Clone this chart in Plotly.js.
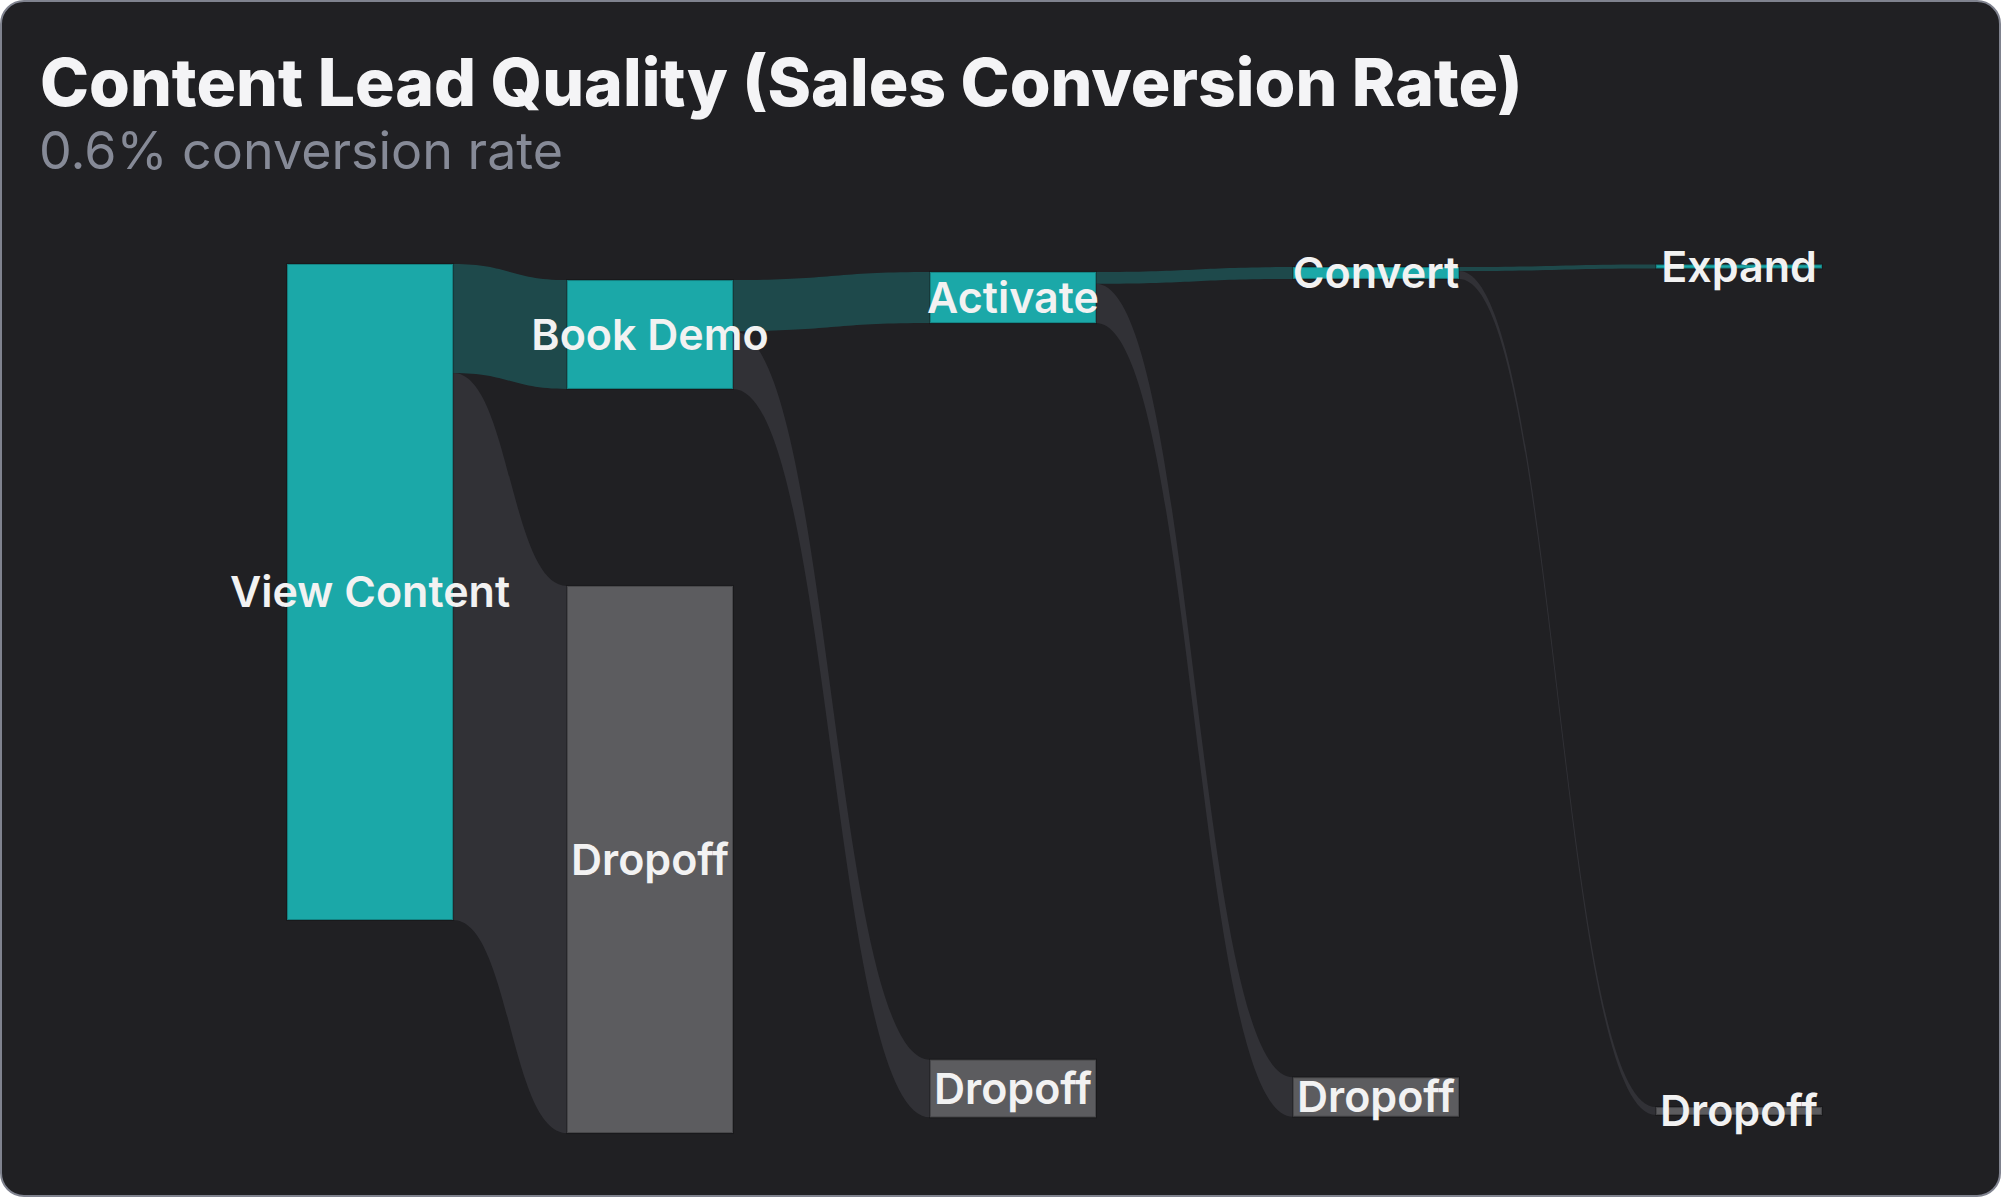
<!DOCTYPE html>
<html>
<head>
<meta charset="utf-8">
<script src="https://cdn.plot.ly/plotly-3.0.1.min.js"></script>
<style>
  html, body { margin: 0; padding: 0; background: #ffffff; }
  #card {
    position: absolute; left: 0; top: 0; width: 2001px; height: 1197px;
    box-sizing: border-box; border: 2px solid #7f828e; border-radius: 24px;
    background: #202023; overflow: hidden;
  }
  #chart { position: absolute; left: -2px; top: -2px; width: 2001px; height: 1197px; }
</style>
</head>
<body>
<div id="card"><div id="chart"></div></div>
<script>
// ---- data ----
const nodeNames  = ['View Content', 'Book Demo', 'Dropoff', 'Activate', 'Dropoff', 'Convert', 'Dropoff', 'Expand', 'Dropoff'];
const nodeKinds  = ['stage', 'stage', 'drop', 'stage', 'drop', 'stage', 'drop', 'stage', 'drop'];
const linkSource = [0, 0, 1, 1, 3, 3, 5, 5];
const linkTarget = [1, 2, 3, 4, 5, 6, 7, 8];
const linkValue  = [1660, 8340, 780, 880, 180, 600, 60, 120];
const titleText    = 'Content Lead Quality (Sales Conversion Rate)';
const subtitleText = '0.6% conversion rate';

// ---- layout (positions / styles) ----
const W = 2001, H = 1197;
const M = { l: 287, r: 262, t: 250, b: 271 };
const plotW = W - M.l - M.r, plotH = H - M.t - M.b;
const nodeX = [0.0572, 0.25, 0.25, 0.5, 0.5, 0.75, 0.75, 1.0, 1.0];
const nodeY = [0.5059, 0.1250, 0.9016, 0.0703, 1.2404, 0.0340, 1.2530, 0.0244, 1.2737];

const stageColor = '#1ba8a8';
const dropColor  = '#5c5c5f';
const stageLink  = 'rgba(27,168,168,0.30)';
const dropLink   = 'rgba(100,100,112,0.25)';

const trace = {
  type: 'sankey',
  arrangement: 'snap',
  domain: { x: [0, 1], y: [0, 1] },
  node: {
    label: nodeNames,
    x: nodeX,
    y: nodeY,
    pad: 5,
    thickness: 166,
    color: nodeKinds.map(k => k === 'stage' ? stageColor : dropColor),
    line: { color: 'rgba(0,0,0,0.22)', width: 2 },
    hoverinfo: 'none'
  },
  link: {
    source: linkSource,
    target: linkTarget,
    value: linkValue,
    color: linkTarget.map(t => nodeKinds[t] === 'stage' ? stageLink : dropLink),
    line: { width: 0 },
    hoverinfo: 'none'
  },
  textfont: { family: 'Inter, sans-serif', size: 43, color: '#f2f2f2', weight: 600, shadow: 'none' }
};

const px2x = px => (px - M.l) / plotW;
const px2y = py => (H - M.b - py) / plotH;

const layout = {
  width: W, height: H,
  margin: M,
  paper_bgcolor: 'rgba(0,0,0,0)',
  plot_bgcolor: 'rgba(0,0,0,0)',
  font: { family: 'Inter, sans-serif', color: '#f2f2f2' },
  showlegend: false,
  annotations: [
    { text: titleText, xref: 'paper', yref: 'paper', x: px2x(38), y: px2y(40),
      xanchor: 'left', yanchor: 'top', showarrow: false, align: 'left',
      font: { family: 'Inter, sans-serif', size: 66, weight: 800, color: '#f4f4f6' } },
    { text: subtitleText, xref: 'paper', yref: 'paper', x: px2x(37), y: px2y(117),
      xanchor: 'left', yanchor: 'top', showarrow: false, align: 'left',
      font: { family: 'Inter, sans-serif', size: 52, weight: 400, color: '#868a97' } }
  ]
};

function centerLabels() {
  document.querySelectorAll('#chart .sankey-node').forEach(function (n) {
    var rect = n.querySelector('.node-rect');
    var lab = n.querySelector('.node-label');
    if (!rect || !lab) return;
    var w = parseFloat(rect.getAttribute('width')) || 0;
    var tr = lab.getAttribute('transform') || '';
    var m = tr.match(/translate\(\s*([-\d.e]+)[\s,]+([-\d.e]+)\s*\)/);
    var y = m ? m[2] : 0;
    lab.setAttribute('text-anchor', 'middle');
    lab.setAttribute('transform', 'translate(' + (w / 2) + ',' + y + ')');
    lab.querySelectorAll('tspan').forEach(function (t) { if (t.hasAttribute('x')) t.setAttribute('x', 0); });
  });
}

Plotly.newPlot('chart', [trace], layout, { staticPlot: true, displayModeBar: false }).then(centerLabels);
</script>
</body>
</html>
